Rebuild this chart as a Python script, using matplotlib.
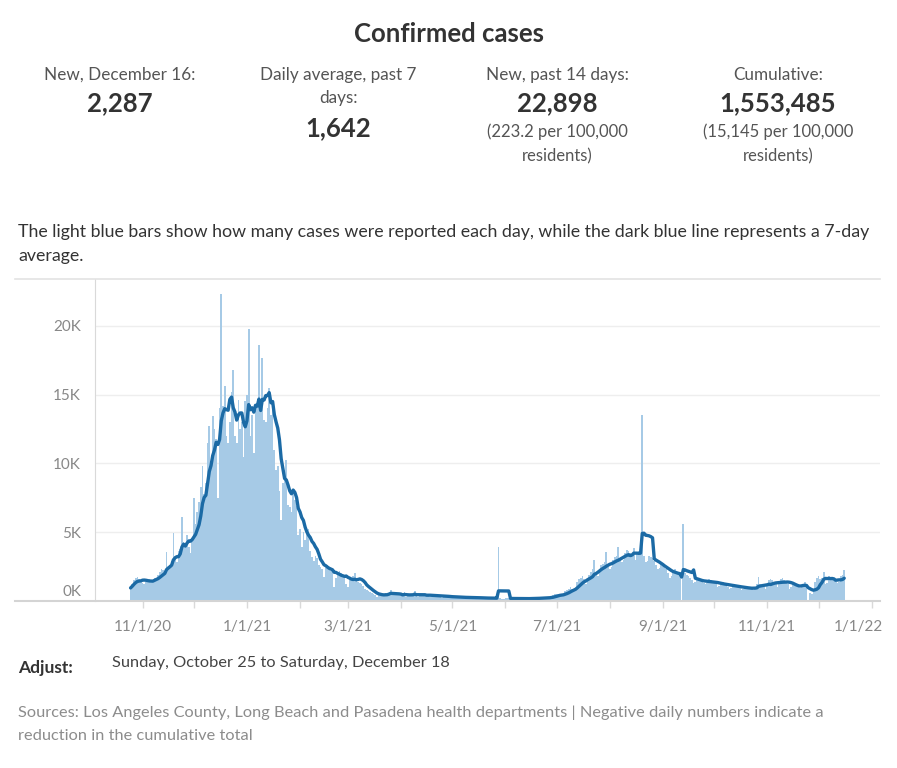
import matplotlib
matplotlib.use("Agg")
import matplotlib.pyplot as plt
import matplotlib.dates as mdates
from matplotlib.lines import Line2D
from matplotlib.transforms import ScaledTranslation
import numpy as np
import pandas as pd

plt.rcParams['font.family'] = ['Lato', 'DejaVu Sans']

# daily confirmed cases, Sunday Oct 25 2020 -> Thursday Dec 16 2021 (one row per week)
daily_cases = [
    950, 1200, 1500, 1700, 1750, 1600, 1550,
    1300, 1250, 1400, 1500, 1600, 1550, 1500,
    1700, 1600, 1900, 2100, 2300, 2250, 2200,
    3590, 2400, 2600, 2900, 4950, 3300, 2800,
    3600, 3800, 6140, 4300, 4000, 4800, 3900,
    3490, 4600, 7500, 5600, 6500, 7200, 8300,
    9780, 7800, 8600, 11500, 12690, 10200, 13420,
    12500, 11800, 7500, 14000, 22300, 14140, 15600,
    12000, 11500, 13000, 15200, 16820, 12000, 11500,
    14630, 12500, 13000, 10500, 14500, 15000, 19800,
    12000, 13500, 10770, 14000, 14000, 18640, 14000,
    17670, 13180, 13000, 14000, 15500, 13500, 14630,
    11000, 9540, 9800, 8000, 5900, 8570, 9500,
    10270, 7000, 6800, 6500, 7800, 7350, 6870,
    4800, 5200, 3950, 5000, 4400, 4930, 5200,
    3600, 3230, 2900, 3300, 3100, 2600, 2500,
    2300, 1770, 2400, 2600, 2500, 2200, 2100,
    1040, 1700, 1900, 2200, 2000, 1900, 1800,
    1200, 1040, 1500, 1700, 1800, 2050, 1500,
    1400, 1300, 1200, 1100, 900, 800, 700,
    680, 600, 500, 450, 310, 400, 500,
    450, 500, 550, 500, 600, 800, 450,
    400, 420, 500, 450, 480, 400, 680,
    300, 350, 450, 500, 480, 730, 400,
    300, 350, 450, 500, 450, 500, 420,
    280, 300, 420, 450, 400, 420, 350,
    250, 260, 350, 380, 350, 330, 280,
    200, 220, 300, 320, 300, 280, 250,
    180, 200, 280, 300, 270, 260, 220,
    150, 180, 250, 260, 240, 220, 200,
    150, 170, 230, 240, 220, 3950, 200,
    130, 150, 220, 230, 210, 180, 160,
    120, 140, 200, 210, 190, 170, 150,
    130, 150, 210, 230, 220, 200, 180,
    150, 180, 250, 270, 260, 240, 210,
    250, 300, 400, 480, 520, 500, 450,
    350, 450, 700, 800, 900, 1000, 900,
    750, 900, 1400, 1600, 1700, 1800, 1600,
    1200, 1500, 1900, 2100, 2300, 2980, 2000,
    1800, 2200, 2600, 2700, 2800, 3590, 2500,
    2300, 2500, 3000, 3200, 3300, 3950, 3000,
    2800, 3000, 3500, 3700, 3600, 3500, 3200,
    3840, 3000, 3500, 3600, 3700, 13540, 3300,
    2800, 2900, 3300, 3200, 3100, 2900, 2600,
    2300, 2400, 2700, 2600, 2400, 2300, 2000,
    1700, 1800, 2200, 2300, 2100, 2000, 1800,
    0, 5600, 2000, 1900, 1800, 1700, 1500,
    1300, 1400, 1700, 1600, 1500, 1450, 1300,
    1200, 1300, 1600, 1550, 1400, 1350, 1200,
    1000, 1100, 1400, 1350, 1250, 1200, 1050,
    900, 950, 1200, 1150, 1100, 1050, 950,
    800, 850, 1050, 1000, 1000, 950, 850,
    800, 900, 1200, 1750, 1200, 1100, 1000,
    900, 1100, 1500, 1600, 1500, 1400, 1200,
    1000, 1200, 1600, 1650, 1550, 1450, 1200,
    900, 1000, 1300, 1200, 1150, 1100, 950,
    1000, 1200, 1400, 1100, 0, 600, 500,
    700, 1400, 1700, 1800, 1600, 1700, 2100,
    1200, 1300, 1800, 1700, 1650, 1500, 1400,
    1300, 1400, 1800, 1900, 2287,
]
start_date = "2020-10-25"

kpi_labels = ["New, December 16:", "Daily average, past 7\ndays:", "New, past 14 days:", "Cumulative:"]
kpi_values = ["2,287", "1,642", "22,898", "1,553,485"]
kpi_notes = ["", "", "(223.2 per 100,000\nresidents)", "(15,145 per 100,000\nresidents)"]

dates = pd.date_range(start_date, periods=len(daily_cases), freq="D")
avg7 = pd.Series(daily_cases).rolling(7, min_periods=1).mean()

W, H = 897, 768
fig = plt.figure(figsize=(W / 100, H / 100), dpi=100)

def fx(px):
    return px / W

def fy(py):
    return 1 - py / H

# header
fig.text(fx(449), fy(34), "Confirmed cases", ha='center', va='center',
         fontsize=18.5, fontweight='bold', color='#333333')
kpi_x = [120, 338, 557, 778]
for i in range(4):
    lines = kpi_labels[i].split("\n")
    for j, ln in enumerate(lines):
        fig.text(fx(kpi_x[i]), fy(75 + 23 * j), ln, ha='center', va='center',
                 fontsize=12.3, color='#555555')
    vy = 103 if len(lines) == 1 else 128
    fig.text(fx(kpi_x[i]), fy(vy), kpi_values[i], ha='center', va='center',
             fontsize=18.5, fontweight='bold', color='#333333')
    if kpi_notes[i]:
        for j, ln in enumerate(kpi_notes[i].split("\n")):
            fig.text(fx(kpi_x[i]), fy(132 + 24 * j), ln, ha='center', va='center',
                     fontsize=12, color='#555555')

fig.text(fx(18), fy(232), "The light blue bars show how many cases were reported each day, "
         "while the dark blue line represents a 7-day", ha='left', va='center',
         fontsize=12.75, color='#333333')
fig.text(fx(18), fy(256), "average.", ha='left', va='center', fontsize=12.75, color='#333333')

# chart
left, right, top, bottom = 95, 880, 279, 601
ax = fig.add_axes([fx(left), fy(bottom), fx(right - left), (bottom - top) / H])
ax.bar(dates, daily_cases, width=1.0, color='#a6cae6', linewidth=0, zorder=2)
ax.plot(dates, avg7, color='#1b6aa5', lw=2.4, solid_joinstyle='round',
        solid_capstyle='round', zorder=3)

ax.set_ylim(0, 23400)
ax.set_xlim(pd.Timestamp("2020-10-04 05:00"), pd.Timestamp("2022-01-05 22:00"))
ax.set_yticks([0, 5000, 10000, 15000, 20000])
ax.set_yticklabels(["0K", "5K", "10K", "15K", "20K"])
ax.grid(axis='y', color='#eeeeee', lw=1, zorder=0)
ax.tick_params(axis='y', length=0, pad=10, labelsize=11, labelcolor='#888888')
ax.get_yticklabels()[0].set_verticalalignment('bottom')

ax.xaxis.set_major_locator(mdates.MonthLocator(bymonth=[1, 3, 5, 7, 9, 11]))
ax.xaxis.set_minor_locator(mdates.MonthLocator())
ax.xaxis.set_major_formatter(plt.FuncFormatter(
    lambda v, _: "{}/{}/{:02d}".format(mdates.num2date(v).month, mdates.num2date(v).day,
                                      mdates.num2date(v).year % 100)))
ax.tick_params(axis='x', which='both', length=5, color='#d9d9d9', width=1)
ax.tick_params(axis='x', which='major', pad=9, labelsize=11, labelcolor='#888888')

for s in ['top', 'right']:
    ax.spines[s].set_visible(False)
ax.spines['left'].set_color('#d9d9d9')
ax.spines['bottom'].set_visible(False)

# last label pulled inside like the original
fig.canvas.draw()
labels = ax.get_xticklabels()
labels[-1].set_horizontalalignment('right')
labels[-1].set_transform(labels[-1].get_transform() + ScaledTranslation(11 / 100, 0, fig.dpi_scale_trans))
ylabels = ax.get_yticklabels()
ylabels[0].set_verticalalignment('bottom')
ylabels[0].set_transform(ylabels[0].get_transform() + ScaledTranslation(0, 2 / 100, fig.dpi_scale_trans))

# pane borders
fig.add_artist(Line2D([fx(15), fx(880)], [fy(279), fy(279)], color='#e3e3e3', lw=1.2))
fig.add_artist(Line2D([fx(15), fx(880)], [fy(601), fy(601)], color='#d4d4d4', lw=1.5))

# footer
fig.text(fx(18), fy(668), "Adjust:", ha='left', va='center', fontsize=12.5,
         fontweight='bold', color='#333333')
fig.text(fx(112), fy(663), "Sunday, October 25 to Saturday, December 18", ha='left',
         va='center', fontsize=11.8, color='#444444')
fig.text(fx(18), fy(713), "Sources: Los Angeles County, Long Beach and Pasadena health departments"
         " | Negative daily numbers indicate a", ha='left', va='center', fontsize=11.8,
         color='#8c8c8c')
fig.text(fx(18), fy(736), "reduction in the cumulative total", ha='left', va='center',
         fontsize=11.8, color='#8c8c8c')

fig.savefig("out.png", dpi=100)
